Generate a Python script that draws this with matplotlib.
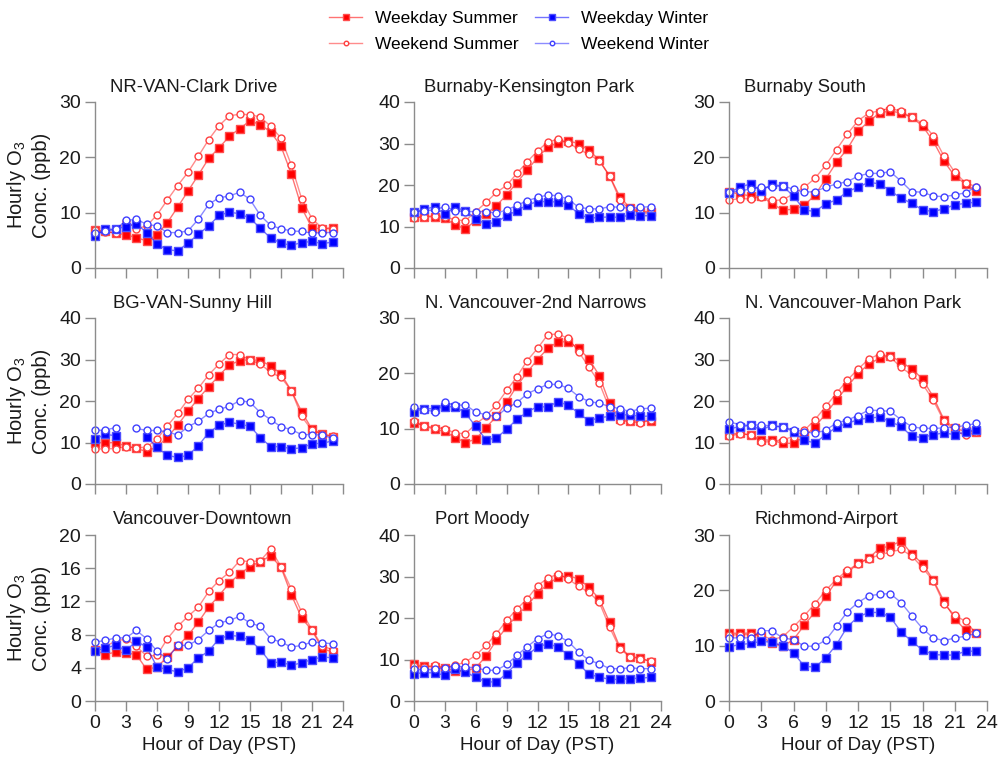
import numpy as np
import matplotlib
matplotlib.use("Agg")
import matplotlib.pyplot as plt

plt.rcParams['font.family'] = ['Liberation Sans', 'DejaVu Sans']
plt.rcParams['mathtext.fontset'] = 'custom'
plt.rcParams['mathtext.rm'] = 'Liberation Sans'

hours = list(range(24))
nan = np.nan

stations = ["NR-VAN-Clark Drive", "Burnaby-Kensington Park", "Burnaby South",
            "BG-VAN-Sunny Hill", "N. Vancouver-2nd Narrows", "N. Vancouver-Mahon Park",
            "Vancouver-Downtown", "Port Moody", "Richmond-Airport"]
series_names = ["Weekday Summer", "Weekend Summer", "Weekday Winter", "Weekend Winter"]

# NR-VAN-Clark Drive
clark_wd_sum = [6.9, 6.6, 6.3, 6.0, 5.5, 4.9, 6.0, 8.2, 11.0, 13.9, 16.8, 19.8,
                21.7, 23.8, 25.2, 26.6, 25.9, 24.6, 22.0, 17.0, 10.9, 7.2, 7.1, 7.3]
clark_we_sum = [6.9, 6.5, 6.4, 8.5, 7.1, 7.6, 9.6, 12.3, 14.9, 17.3, 20.2, 23.2,
                25.7, 27.5, 27.8, 27.7, 27.3, 25.6, 23.5, 18.6, 12.5, 8.9, 7.2, 7.0]
clark_wd_win = [5.8, 7.0, 7.0, 7.5, 8.0, 6.4, 4.3, 3.3, 3.1, 4.5, 6.1, 7.6,
                9.5, 10.1, 9.8, 9.0, 7.2, 5.4, 4.5, 4.1, 4.6, 4.8, 4.4, 4.7]
clark_we_win = [6.3, 6.6, 7.0, 8.6, 8.8, 7.9, 7.6, 6.4, 6.4, 6.7, 8.8, 11.5,
                12.7, 13.0, 13.7, 12.4, 9.5, 7.7, 7.1, 6.7, 6.6, 6.3, 6.4, 6.4]

# Burnaby-Kensington Park
kens_wd_sum = [12.2, 12.4, 12.3, 12.1, 10.3, 9.5, 11.4, 13.0, 15.0, 17.6, 20.6, 23.6,
               26.6, 29.1, 30.2, 30.6, 30.0, 28.4, 26.0, 22.2, 17.2, 14.4, 13.6, 13.6]
kens_we_sum = [12.0, 12.4, 12.6, 12.4, 11.6, 11.4, 13.6, 15.8, 18.2, 19.9, 22.8, 25.6,
               28.2, 30.4, 31.0, 30.2, 28.6, 27.4, 25.8, 22.2, 16.4, 14.0, 13.4, 13.2]
kens_wd_win = [13.4, 14.2, 14.7, 13.0, 14.6, 13.8, 11.8, 10.6, 11.0, 12.6, 13.8, 15.2,
               16.0, 16.0, 15.9, 15.2, 13.0, 12.0, 12.2, 12.3, 12.2, 12.8, 12.6, 12.6]
kens_we_win = [13.4, 13.8, 14.0, 14.8, 13.8, 13.6, 13.6, 13.6, 13.2, 14.0, 15.1, 16.2,
               17.0, 17.6, 17.4, 16.6, 14.6, 14.3, 14.2, 14.8, 14.6, 14.4, 14.6, 14.8]

# Burnaby South
bsouth_wd_sum = [13.7, 13.4, 13.0, 13.0, 11.6, 10.5, 10.6, 11.3, 13.2, 16.1, 19.1, 21.5,
                 24.7, 26.5, 28.0, 28.4, 28.0, 27.2, 25.7, 22.9, 19.3, 16.6, 15.2, 13.9]
bsouth_we_sum = [12.3, 12.5, 12.5, 12.9, 12.2, 12.3, 13.4, 14.6, 16.2, 18.6, 21.4, 24.2,
                 26.6, 28.0, 28.4, 28.9, 28.3, 27.2, 26.2, 23.9, 20.2, 17.3, 15.4, 14.7]
bsouth_wd_win = [13.6, 14.6, 15.2, 14.0, 15.1, 14.8, 13.0, 10.5, 10.2, 11.6, 12.3, 13.8,
                 14.6, 15.5, 15.2, 14.0, 12.6, 11.7, 10.5, 10.2, 10.7, 11.4, 11.7, 11.9]
bsouth_we_win = [13.7, 13.9, 14.3, 14.6, 14.6, 14.9, 14.2, 13.7, 13.8, 14.6, 15.2, 15.6,
                 16.6, 17.1, 17.1, 17.4, 15.7, 13.8, 13.7, 13.0, 12.9, 13.2, 13.6, 14.7]

# BG-VAN-Sunny Hill
sunny_wd_sum = [10.0, 9.9, 10.0, 9.1, 8.6, 7.8, 9.0, 11.2, 14.2, 17.5, 20.6, 23.4,
                26.1, 28.7, 29.7, 30.0, 29.7, 28.5, 26.5, 22.5, 17.4, 13.2, 12.0, 11.4]
sunny_we_sum = [8.4, 8.5, 8.5, 9.0, 8.7, 8.9, 10.8, 14.0, 17.0, 20.4, 23.1, 26.3,
                28.9, 31.2, 31.2, 29.9, 28.9, 26.9, 25.7, 22.5, 16.3, 12.9, 12.0, 11.6]
sunny_wd_win = [10.8, 12.0, 11.6, nan, nan, 11.4, 8.8, 6.9, 6.4, 6.9, 9.2, 12.4,
                14.1, 14.9, 14.4, 13.9, 11.2, 9.0, 9.0, 8.5, 8.7, 9.7, 9.8, 10.4]
sunny_we_win = [12.9, 13.0, 13.6, nan, 13.4, 12.9, 12.9, 12.6, 11.8, 13.8, 15.1, 17.0,
                18.0, 18.7, 20.1, 19.7, 17.2, 15.5, 13.8, 13.1, 11.9, 11.9, 11.8, 11.0]

# N. Vancouver-2nd Narrows
narrows_wd_sum = [11.1, 10.5, 9.9, 9.5, 8.4, 7.5, 8.1, 10.2, 12.2, 14.8, 17.7, 20.2,
                  22.5, 24.5, 25.7, 25.7, 24.5, 22.6, 19.6, 14.6, 11.7, 11.4, 11.4, 11.4]
narrows_we_sum = [11.3, 10.5, 10.2, 10.0, 9.2, 9.1, 10.8, 12.3, 14.3, 16.9, 19.4, 22.3,
                  24.5, 27.0, 27.1, 26.3, 23.9, 21.1, 18.3, 13.6, 11.4, 11.3, 11.0, 11.6]
narrows_wd_win = [13.1, 13.6, 13.6, 13.9, 14.0, 12.8, 10.4, 8.0, 8.3, 9.9, 11.7, 13.0,
                  14.0, 13.9, 14.9, 14.2, 12.8, 11.4, 12.0, 12.2, 12.5, 12.5, 12.2, 12.3]
narrows_we_win = [13.9, 13.4, 13.1, 14.8, 14.2, 14.3, 13.0, 12.5, 12.2, 13.7, 14.7, 16.3,
                  17.2, 18.0, 18.0, 17.3, 15.8, 14.9, 14.6, 14.0, 13.6, 13.1, 13.6, 13.7]

# N. Vancouver-Mahon Park
mahon_wd_sum = [11.9, 12.3, 11.7, 10.7, 10.5, 9.8, 9.8, 11.4, 13.8, 16.9, 20.3, 23.4,
                26.6, 28.9, 30.3, 30.9, 29.4, 27.8, 25.3, 21.0, 15.5, 13.4, 12.7, 12.5]
mahon_we_sum = [11.5, 12.1, 11.9, 10.1, 10.2, 10.7, 11.4, 12.9, 15.5, 18.7, 21.9, 25.0,
                27.7, 30.1, 31.3, 30.6, 28.1, 26.3, 24.1, 20.2, 15.1, 12.9, 11.7, 12.5]
mahon_wd_win = [13.3, 13.8, 14.1, 13.1, 14.1, 13.8, 12.6, 10.5, 9.9, 11.9, 13.7, 14.6,
                15.5, 15.9, 16.1, 15.0, 13.9, 11.5, 11.2, 11.9, 12.3, 11.9, 12.5, 13.1]
mahon_we_win = [15.0, 14.3, 14.1, 14.3, 13.9, 13.7, 13.1, 12.6, 12.2, 13.0, 14.7, 15.4,
                16.5, 17.8, 17.7, 17.5, 15.5, 13.8, 13.4, 13.4, 13.5, 13.7, 14.1, 14.6]

# Vancouver-Downtown
down_wd_sum = [6.1, 5.6, 5.9, 5.8, 5.6, 3.8, 4.1, 5.3, 6.6, 7.9, 9.5, 11.3,
               12.7, 14.2, 15.3, 16.2, 16.8, 17.5, 16.1, 12.8, 10.0, 8.5, 6.3, 5.9]
down_we_sum = [6.3, 6.6, 7.2, 7.5, 6.6, 5.4, 5.5, 7.5, 9.0, 10.2, 11.3, 13.2,
               14.5, 15.5, 16.9, 16.8, 16.9, 18.3, 16.2, 13.5, 10.7, 8.6, 6.6, 6.2]
down_wd_win = [6.0, 6.4, 6.7, 6.1, 7.2, 6.5, 4.1, 3.8, 3.5, 4.0, 5.2, 6.0,
               7.5, 7.9, 7.8, 7.3, 6.2, 4.6, 4.7, 4.3, 4.6, 5.0, 5.3, 5.2]
down_we_win = [7.1, 7.3, 7.6, 7.6, 8.5, 7.5, 6.0, 5.1, 6.7, 6.7, 7.4, 8.5,
               9.4, 9.7, 10.2, 9.4, 9.0, 7.5, 7.1, 6.5, 6.7, 7.1, 7.0, 6.9]

# Port Moody
moody_wd_sum = [8.8, 8.4, 8.2, 8.0, 7.2, 7.2, 8.0, 10.8, 14.6, 17.8, 20.6, 23.0,
                25.9, 28.2, 29.8, 30.2, 29.4, 27.4, 24.6, 19.0, 13.0, 10.7, 10.4, 9.4]
moody_we_sum = [8.4, 8.2, 8.6, 8.0, 8.6, 9.4, 11.0, 13.4, 16.2, 19.4, 22.2, 24.6,
                27.8, 29.6, 30.6, 29.4, 27.6, 26.2, 23.8, 17.8, 12.6, 10.6, 10.2, 9.6]
moody_wd_win = [6.6, 6.8, 6.8, 6.2, 7.6, 7.0, 5.7, 4.6, 4.6, 6.6, 9.2, 11.1,
                13.0, 13.8, 13.0, 11.0, 9.0, 6.4, 5.8, 5.2, 5.2, 5.4, 5.5, 5.7]
moody_we_win = [7.6, 7.6, 7.6, 8.0, 8.4, 8.2, 8.0, 7.4, 7.4, 8.8, 11.0, 13.1,
                15.0, 16.2, 15.7, 14.3, 11.8, 9.8, 9.0, 7.8, 7.8, 8.0, 7.8, 7.8]

# Richmond-Airport
rich_wd_sum = [12.3, 12.2, 12.3, 11.7, 10.4, 9.9, 11.1, 13.7, 16.1, 18.9, 21.7, 23.1,
               24.9, 25.8, 27.6, 28.0, 28.9, 26.6, 24.8, 21.9, 18.0, 14.9, 12.8, 12.3]
rich_we_sum = [11.9, 12.0, 12.0, 11.9, 11.1, 11.6, 13.4, 15.4, 17.6, 20.0, 22.0, 23.6,
               24.8, 25.7, 26.4, 26.9, 27.4, 26.2, 24.1, 21.7, 17.5, 15.5, 14.4, 12.2]
rich_wd_win = [9.8, 10.2, 10.4, 10.8, 10.6, 10.0, 8.7, 6.3, 6.1, 7.8, 10.2, 13.4,
               15.2, 16.0, 16.0, 15.2, 12.5, 10.8, 9.2, 8.4, 8.3, 8.3, 9.0, 9.0]
rich_we_win = [11.4, 11.4, 11.4, 12.7, 12.7, 11.4, 11.1, 9.9, 9.9, 11.0, 13.5, 16.1,
               17.8, 19.0, 19.3, 19.4, 17.8, 15.4, 13.1, 11.4, 10.9, 11.4, 11.7, 12.2]

panel_data = [
    (clark_wd_sum, clark_we_sum, clark_wd_win, clark_we_win),
    (kens_wd_sum, kens_we_sum, kens_wd_win, kens_we_win),
    (bsouth_wd_sum, bsouth_we_sum, bsouth_wd_win, bsouth_we_win),
    (sunny_wd_sum, sunny_we_sum, sunny_wd_win, sunny_we_win),
    (narrows_wd_sum, narrows_we_sum, narrows_wd_win, narrows_we_win),
    (mahon_wd_sum, mahon_we_sum, mahon_wd_win, mahon_we_win),
    (down_wd_sum, down_we_sum, down_wd_win, down_we_win),
    (moody_wd_sum, moody_we_sum, moody_wd_win, moody_we_win),
    (rich_wd_sum, rich_we_sum, rich_wd_win, rich_we_win),
]
y_max = [30, 40, 30, 40, 30, 40, 20, 40, 30]
y_step = [10, 10, 10, 10, 10, 10, 4, 10, 10]

# layout in pixels (figure 999 x 764)
W, H = 999, 764
col_left = [95, 414, 729]
col_width = [248, 247, 258]
row_top = [102, 318, 535]
ax_h = 166
title_dx = [15, 10, 15, 18, 11, 16, 18, 21, 26]

styles = [
    dict(line=(1, 0, 0, 0.55), mfc="red", mec=(1, 0.3, 0.3), marker="s", ms=5.6),
    dict(line=(1, 0, 0, 0.45), mfc="white", mec=(1, 0.25, 0.25), marker="o", ms=5.0),
    dict(line=(0, 0, 1, 0.55), mfc="blue", mec=(0.3, 0.3, 1), marker="s", ms=5.6),
    dict(line=(0, 0, 1, 0.45), mfc="white", mec=(0.25, 0.25, 1), marker="o", ms=5.0),
]

fig = plt.figure(figsize=(W / 100, H / 100), dpi=100)
spine_col = "#8c8c8c"
text_col = "#1a1a1a"
handles = []

for i, name in enumerate(stations):
    r, c = divmod(i, 3)
    ax = fig.add_axes([col_left[c] / W, (H - row_top[r] - ax_h) / H,
                       col_width[c] / W, ax_h / H])
    for k, vals in enumerate(panel_data[i]):
        st = styles[k]
        ln, = ax.plot(hours, vals, color=st["line"], lw=1.0, marker=st["marker"],
                      ms=st["ms"], mfc=st["mfc"], mec=st["mec"], mew=1.0,
                      label=series_names[k], clip_on=False)
        if i == 0:
            handles.append(ln)
    ax.set_xlim(0, 24)
    ax.set_ylim(0, y_max[i])
    ax.set_xticks(range(0, 25, 3))
    ax.set_yticks(np.arange(0, y_max[i] + 0.1, y_step[i]))
    for s in ["top", "right"]:
        ax.spines[s].set_visible(False)
    for s in ["left", "bottom"]:
        ax.spines[s].set_color(spine_col)
        ax.spines[s].set_linewidth(1.0)
    ax.tick_params(direction="out", length=7, width=1.0, color=spine_col,
                   labelsize=14, labelcolor=text_col, pad=3)
    if r < 2:
        ax.tick_params(axis="x", labelbottom=False)
    else:
        ax.set_xlabel("Hour of Day (PST)", fontsize=13.5, color=text_col, labelpad=4)
    if c == 0:
        ax.set_ylabel("Hourly O$_\\mathregular{3}$\nConc. (ppb)", fontsize=14.5,
                      color=text_col, labelpad=6, linespacing=1.25)
    ax.text(title_dx[i] / col_width[c], 1 + 15 / ax_h, name, transform=ax.transAxes,
            ha="left", va="center", fontsize=13.3, color=text_col)

fig.legend(handles=handles, ncol=2, loc="upper center",
           bbox_to_anchor=(519 / W, 1 - 9 / H), frameon=False, fontsize=12.5,
           handlelength=1.9, handletextpad=0.7, columnspacing=1.0,
           labelspacing=0.62, markerscale=0.65, borderaxespad=0, borderpad=0.1)

fig.savefig("out.png", dpi=100)
